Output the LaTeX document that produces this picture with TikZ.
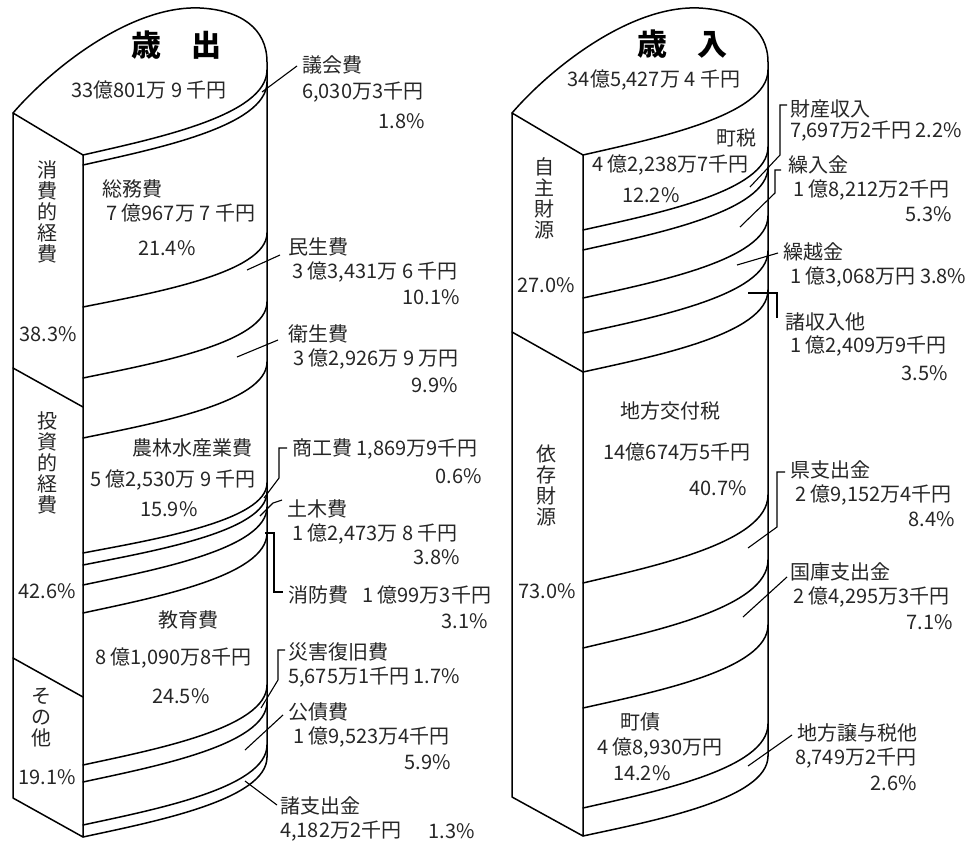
\documentclass[tikz,border=0pt]{standalone}
\usepackage{fontspec}
\setmainfont{Noto Sans CJK JP}
\newcommand{\arcseg}[4]{\draw[cyl] (#1,#3) .. controls ({#1+70},{#3-0.19*#4}) and (#2,{#3-0.46*#4}) .. (#2,{#3-#4});}
\begin{document}
\begin{tikzpicture}[x=1pt,y=-1pt,
  cyl/.style={line width=1.5pt,line join=round,line cap=round},
  ptr/.style={line width=1.1pt},
  lbl/.style={inner sep=0pt,font=\fontsize{20}{22}\selectfont,text=black!85},
  lw/.style={lbl,anchor=west},
  le/.style={lbl,anchor=east},
  vlbl/.style={lbl,align=center,font=\fontsize{20}{21}\selectfont},
  ttl/.style={inner sep=0pt,font=\fontsize{30}{32}\selectfont\bfseries}]
\useasboundingbox (0,0) rectangle (978,841);

% ---------- left cylinder (歳出) ----------
\draw[cyl] (83,155) -- (13,113) .. controls (50,70) and (130,5) .. (200,8) .. controls (240,10) and (267,28) .. (267,62) -- (267,757);
\draw[cyl] (13,113) -- (13,798) -- (83,837) -- (83,155);
\draw[cyl] (13,368) -- (83,407);
\draw[cyl] (13,658) -- (83,697);
\foreach \yy/\dd in {155/85,165/83,307/74,378/76,438/76,553/70,565/73,585/78,613/80,765/80,782/80,825/80,837/80} {\arcseg{83}{267}{\yy}{\dd}}

% ---------- right cylinder (歳入) ----------
\draw[cyl] (583,155) -- (512,113) .. controls (549,70) and (629,5) .. (699,8) .. controls (739,10) and (768,28) .. (768,62) -- (768,756);
\draw[cyl] (512,113) -- (512,797) -- (583,836) -- (583,155);
\draw[cyl] (512,332) -- (583,372);
\foreach \yy/\dd in {155/85,230/83,250/83,298/82,333/82,372/82,583/88,648/88,708/83,808/84,836/80} {\arcseg{583}{768}{\yy}{\dd}}

% ---------- left texts ----------
\node[ttl] (t1) at (176,45) {歳\hspace{1em}出};
\node[lbl] (tot1) at (149,90) {33億801万 9 千円};

\node[vlbl] (v1) at (47,212) {消\\費\\的\\経\\費};
\node[lbl] (p1) at (48,334) {38.3\%};
\node[vlbl] (v2) at (47,463) {投\\資\\的\\経\\費};
\node[lbl] (p2) at (47,591) {42.6\%};
\node[vlbl] (v3) at (41,718) {そ\\の\\他};
\node[lbl] (p3) at (47,777) {19.1\%};

\node[lw] (s1) at (102,189) {総務費};
\node[lw] (s2) at (106,213) {7 億967万 7 千円};
\node[lw] (s3) at (138,248) {21.4\%};

\node[lw] (g1) at (302,65) {議会費};
\node[lw] (g2) at (302,92) {6,030万3千円};
\node[le] (g3) at (425,121) {1.8\%};

\node[lw] (m1) at (288,247) {民生費};
\node[lw] (m2) at (292,272) {3 億3,431万 6 千円};
\node[le] (m3) at (460,297) {10.1\%};

\node[lw] (e1) at (288,334) {衛生費};
\node[lw] (e2) at (293,359) {3 億2,926万 9 万円};
\node[le] (e3) at (458,385) {9.9\%};

\node[lbl,anchor=east] (n1) at (253,448) {農林水産業費};
\node[lw] (n2) at (90,480) {5 億2,530万 9 千円};
\node[lw] (n3) at (140,509) {15.9\%};

\node[lw] (k1) at (292,449) {商工費 1,869万9千円};
\node[le] (k2) at (482,476) {0.6\%};

\node[lw] (d1) at (287,509) {土木費};
\node[lw] (d2) at (292,534) {1 億2,473万 8 千円};
\node[le] (d3) at (460,557) {3.8\%};

\node[lw] (f1) at (288,595) {消防費\hspace{0.7em}1 億99万3千円};
\node[le] (f2) at (488,621) {3.1\%};

\node[lbl] (ed1) at (188,620) {教育費};
\node[lw] (ed2) at (95,658) {8 億1,090万8千円};
\node[lw] (ed3) at (152,696) {24.5\%};

\node[lw] (sa1) at (288,652) {災害復旧費};
\node[lw] (sa2) at (288,677) {5,675万1千円 1.7\%};

\node[lw] (ko1) at (288,712) {公債費};
\node[lw] (ko2) at (293,737) {1 億9,523万4千円};
\node[le] (ko3) at (451,762) {5.9\%};

\node[lw] (sh1) at (280,806) {諸支出金};
\node[lw] (sh2) at (280,831) {4,182万2千円};
\node[le] (sh3) at (475,831) {1.3\%};

% ---------- right texts ----------
\node[ttl] (t2) at (682,44) {歳\hspace{1em}入};
\node[lbl] (tot2) at (654,80) {34億5,427万 4 千円};

\node[vlbl] (v4) at (544,198) {自\\主\\財\\源};
\node[lbl] (p4) at (546,285) {27.0\%};
\node[vlbl] (v5) at (546,485) {依\\存\\財\\源};
\node[lbl] (p5) at (547,591) {73.0\%};

\node[le] (c1) at (757,138) {町税};
\node[lw] (c2) at (592,165) {4 億2,238万7千円};
\node[lw] (c3) at (622,195) {12.2\%};

\node[lw] (z1) at (790,109) {財産収入};
\node[lw] (z2) at (790,131) {7,697万2千円 2.2\%};

\node[lw] (r1) at (788,165) {繰入金};
\node[lw] (r2) at (793,190) {1 億8,212万2千円};
\node[le] (r3) at (952,214) {5.3\%};

\node[lw] (o1) at (783,252) {繰越金};
\node[lw] (o2) at (790,277) {1 億3,068万円 3.8\%};

\node[lw] (q1) at (785,322) {諸収入他};
\node[lw] (q2) at (790,346) {1 億2,409万9千円};
\node[le] (q3) at (948,373) {3.5\%};

\node[lbl] (x1) at (670,411) {地方交付税};
\node[lbl] (x2) at (677,452) {14億674万5千円};
\node[le] (x3) at (747,488) {40.7\%};

\node[lw] (h1) at (790,470) {県支出金};
\node[lw] (h2) at (795,495) {2 億9,152万4千円};
\node[le] (h3) at (955,519) {8.4\%};

\node[lw] (u1) at (790,572) {国庫支出金};
\node[lw] (u2) at (793,597) {2 億4,295万3千円};
\node[le] (u3) at (953,622) {7.1\%};

\node[lbl] (b1) at (640,722) {町債};
\node[lw] (b2) at (597,748) {4 億8,930万円};
\node[lw] (b3) at (613,773) {14.2\%};

\node[lw] (j1) at (797,733) {地方譲与税他};
\node[lw] (j2) at (795,758) {8,749万2千円};
\node[le] (j3) at (917,783) {2.6\%};

% ---------- pointers (left) ----------
\coordinate (pg) at (262,92);   \coordinate (pg1) at (297,66);
\draw[ptr] (pg) -- (pg1);
\coordinate (pm) at (247,270);  \coordinate (pm1) at (280,255);
\draw[ptr] (pm) -- (pm1);
\coordinate (pe) at (237,357);  \coordinate (pe1) at (278,340);
\draw[ptr] (pe) -- (pe1);
\coordinate (pk) at (264,498);  \coordinate (pk1) at (279,478);
\coordinate (pk2) at (279,448); \coordinate (pk3) at (287,448);
\draw[ptr] (pk) -- (pk1) -- (pk2) -- (pk3);
\coordinate (pd) at (260,516);  \coordinate (pd1) at (273,503);
\coordinate (pd2) at (282,500);
\draw[ptr] (pd) -- (pd1) -- (pd2);
\coordinate (pf) at (265,533);  \coordinate (pf1) at (274,533);
\coordinate (pf2) at (274,592); \coordinate (pf3) at (283,592);
\draw[ptr] (pf) -- (pf1) -- (pf2) -- (pf3);
\coordinate (ps) at (261,708);  \coordinate (ps1) at (278,680);
\coordinate (ps2) at (278,650); \coordinate (ps3) at (285,650);
\draw[ptr] (ps) -- (ps1) -- (ps2) -- (ps3);
\coordinate (pko) at (245,750); \coordinate (pko1) at (283,715);
\draw[ptr] (pko) -- (pko1);
\coordinate (psh) at (245,781); \coordinate (psh1) at (277,805);
\draw[ptr] (psh) -- (psh1);

% ---------- pointers (right) ----------
\coordinate (pz) at (750,187);  \coordinate (pz1) at (780,155);
\coordinate (pz2) at (780,105); \coordinate (pz3) at (787,105);
\draw[ptr] (pz) -- (pz1) -- (pz2) -- (pz3);
\coordinate (pr) at (740,227);  \coordinate (pr1) at (775,193);
\coordinate (pr2) at (775,170); \coordinate (pr3) at (781,170);
\draw[ptr] (pr) -- (pr1) -- (pr2) -- (pr3);
\coordinate (po) at (737,265);  \coordinate (po1) at (778,253);
\draw[ptr] (po) -- (po1);
\coordinate (pq) at (748,293);  \coordinate (pq1) at (777,293);
\coordinate (pq2) at (777,318);
\draw[ptr] (pq) -- (pq1) -- (pq2);
\coordinate (ph) at (748,548);  \coordinate (ph1) at (777,527);
\coordinate (ph2) at (777,472); \coordinate (ph3) at (785,472);
\draw[ptr] (ph) -- (ph1) -- (ph2) -- (ph3);
\coordinate (pu) at (743,617);  \coordinate (pu1) at (787,577);
\draw[ptr] (pu) -- (pu1);
\coordinate (pj) at (748,766);  \coordinate (pj1) at (792,735);
\draw[ptr] (pj) -- (pj1);
\end{tikzpicture}
\end{document}
